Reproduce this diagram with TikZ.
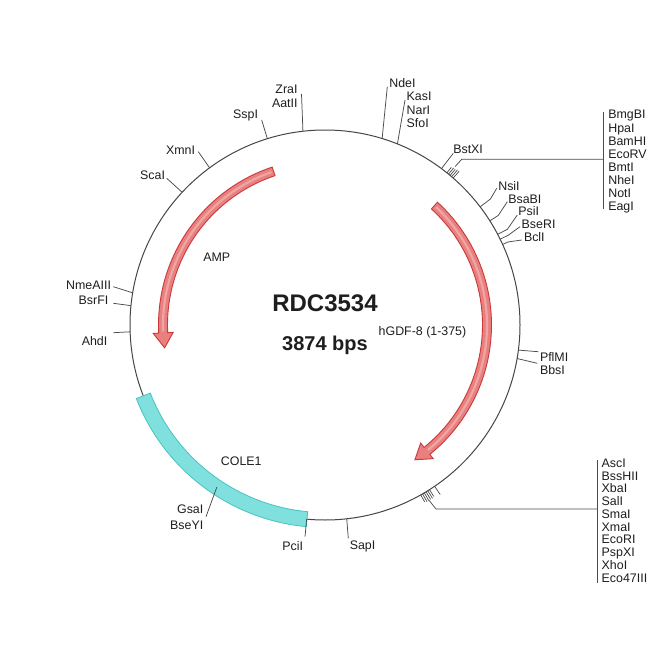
\documentclass[tikz,border=0pt]{standalone}
\usepackage{fontspec}
\setmainfont{Liberation Sans}
\definecolor{txtc}{RGB}{30,30,30}
\definecolor{leadc}{RGB}{75,75,75}
\definecolor{ringc}{RGB}{70,70,70}
\definecolor{redf}{RGB}{232,128,128}
\definecolor{redd}{RGB}{205,55,55}
\definecolor{redl}{RGB}{240,165,165}
\definecolor{cyanf}{RGB}{128,224,222}
\definecolor{cyand}{RGB}{70,195,195}
\begin{document}
\begin{tikzpicture}[x=1pt,y=-1pt,
  lab/.style={font=\fontsize{12.4}{13}\selectfont, text=txtc, inner sep=0pt, outer sep=0pt},
  bigtitle/.style={font=\bfseries\fontsize{24}{28}\selectfont, text=txtc, inner sep=0pt},
  subtitle/.style={font=\bfseries\fontsize{20}{24}\selectfont, text=txtc, inner sep=0pt},
  lead/.style={draw=leadc, line width=0.75pt},
  ring/.style={draw=ringc, line width=1pt},
  redarrow/.style={fill=redf, draw=redd, line width=0.9pt, line join=miter},
  redstripe/.style={draw=redl, line width=2.2pt},
  cyanband/.style={fill=cyanf, draw=cyand, line width=0.8pt},
  tickmark/.style={draw=leadc, line width=0.7pt}]
\fill[white] (0,0) rectangle (650,650);
\useasboundingbox (0,0) rectangle (650,650);

\begin{scope}[shift={(325,325)}]
  % backbone
  \draw[ring] (0,0) circle[radius=195];
  % AMP arrow (counter-clockwise on screen)
  \path[redarrow] (-108.5:166.5) arc[start angle=-108.5, end angle=-182.8, radius=166.5]
     -- (-182.8:172) -- (-188.1:162) -- (-182.8:152) -- (-182.8:157.5)
     arc[start angle=-182.8, end angle=-108.5, radius=157.5] -- cycle;
  \draw[redstripe] (-109.3:162) arc[start angle=-109.3, end angle=-182.3, radius=162];
  % hGDF-8 arrow (clockwise on screen)
  \path[redarrow] (-47.5:166.5) arc[start angle=-47.5, end angle=51, radius=166.5]
     -- (51:172) -- (56.3:162) -- (51:152) -- (51:157.5)
     arc[start angle=51, end angle=-47.5, radius=157.5] -- cycle;
  \draw[redstripe] (-46.7:162) arc[start angle=-46.7, end angle=50.5, radius=162];
  % COLE1 band
  \path[cyanband] (-201.3:202.5) arc[start angle=-201.3, end angle=-264.7, radius=202.5]
     -- (-264.7:187.5) arc[start angle=-264.7, end angle=-201.3, radius=187.5] -- cycle;

  % site points on the backbone
  \coordinate (cZra) at (-96.5:195);
  \coordinate (cSsp) at (-107.2:195);
  \coordinate (cXmn) at (-126.3:195);
  \coordinate (cSca) at (-137.1:195);
  \coordinate (cNme) at (-170.5:195);
  \coordinate (cBsr) at (-174.3:195);
  \coordinate (cAhd) at (-182:195);
  \coordinate (cGsa) at (-236.3:195);
  \coordinate (cPci) at (-264.6:195);
  \coordinate (cSap) at (-276.4:195);
  \coordinate (cPfl) at (7.4:195);
  \coordinate (cBbs) at (9.9:195);
  \coordinate (cBcl) at (-24.4:195);   \coordinate (kBcl) at (-24.4:201);
  \coordinate (cBseR) at (-26.1:195);  \coordinate (kBseR) at (-26.1:204);
  \coordinate (cPsi) at (-27.7:195);   \coordinate (kPsi) at (-27.7:206);
  \coordinate (cBsaB) at (-32.3:195);  \coordinate (kBsaB) at (-32.3:205);
  \coordinate (cNsi) at (-37.3:195);   \coordinate (kNsi) at (-37.3:208);
  \coordinate (cBstX) at (-53.3:195);  \coordinate (kBstX) at (-53.3:201);
  \coordinate (cNde) at (-72.96:195);
  \coordinate (cKas) at (-68.2:195);
  \coordinate (jTop) at (-50.6:205);
  \coordinate (jBot) at (59.3:204);
  % clustered ticks
  \foreach \a/\l in {48.9/9,49.5/9,50.1/8,50.7/8,51.3/7}
    \draw[tickmark] (-\a:195) -- (-\a:195+\l);
  \foreach \a/\l in {57.6/8,58.2/9,58.8/9,59.4/9,60.0/9,60.6/8}
    \draw[tickmark] (\a:195) -- (\a:195+\l);
  \draw[tickmark] (55.8:195) -- (55.8:205);
\end{scope}

% leader end points
\coordinate (eZra) at (301.5,94);
\coordinate (eSsp) at (261.7,120);
\coordinate (eXmn) at (198.3,151.7);
\coordinate (eSca) at (166.7,178.3);
\coordinate (eNme) at (113.3,286.7);
\coordinate (eBsr) at (113.3,303.3);
\coordinate (eAhd) at (113.3,332.7);
\coordinate (eGsa) at (206,516.7);
\coordinate (ePci) at (305,536.7);
\coordinate (eSap) at (348.3,538.3);
\coordinate (ePfl) at (538.3,351.7);
\coordinate (eBbs) at (537.3,363.3);
\coordinate (eBcl) at (521.7,240);
\coordinate (eBseR) at (520,226.7);
\coordinate (ePsi) at (517.3,215);
\coordinate (eBsaB) at (507.3,201.7);
\coordinate (eNsi) at (496.7,188.3);
\coordinate (eBstX) at (453.3,153.3);
\coordinate (eNde) at (387.3,86.7);
\coordinate (eKas) at (405,100);
\coordinate (kTop) at (461.7,159.3);
\coordinate (mTop) at (603.3,159.3);
\coordinate (bTop1) at (603.3,112.5);
\coordinate (bTop2) at (603.3,208.5);
\coordinate (kBot) at (436,509);
\coordinate (mBot) at (597.3,509);
\coordinate (bBot1) at (597.3,460);
\coordinate (bBot2) at (597.3,583);

% leaders
\draw[lead] (cZra) -- (eZra);
\draw[lead] (cSsp) -- (eSsp);
\draw[lead] (cXmn) -- (eXmn);
\draw[lead] (cSca) -- (eSca);
\draw[lead] (cNme) -- (eNme);
\draw[lead] (cBsr) -- (eBsr);
\draw[lead] (cAhd) -- (eAhd);
\draw[lead] (cGsa) -- (eGsa);
\draw[lead] (cPci) -- (ePci);
\draw[lead] (cSap) -- (eSap);
\draw[lead] (cPfl) -- (ePfl);
\draw[lead] (cBbs) -- (eBbs);
\draw[lead] (cBcl) -- (kBcl) -- (eBcl);
\draw[lead] (cBseR) -- (kBseR) -- (eBseR);
\draw[lead] (cPsi) -- (kPsi) -- (ePsi);
\draw[lead] (cBsaB) -- (kBsaB) -- (eBsaB);
\draw[lead] (cNsi) -- (kNsi) -- (eNsi);
\draw[lead] (cBstX) -- (kBstX) -- (eBstX);
\draw[lead] (cNde) -- (eNde);
\draw[lead] (cKas) -- (eKas);
\draw[lead] (jTop) -- (kTop) -- (mTop);
\draw[lead] (bTop1) -- (bTop2);
\draw[lead] (jBot) -- (kBot) -- (mBot);
\draw[lead] (bBot1) -- (bBot2);

% labels
\node[lab, anchor=base east] (lZra) at (297.5,94) {ZraI};
\node[lab, anchor=base east] (lAat) at (297.5,107) {AatII};
\node[lab, anchor=base east] (lSsp) at (258,118) {SspI};
\node[lab, anchor=base east] (lXmn) at (195,154) {XmnI};
\node[lab, anchor=base east] (lSca) at (165,179) {ScaI};
\node[lab, anchor=base east] (lNme) at (111,289) {NmeAIII};
\node[lab, anchor=base east] (lBsr) at (108.3,304) {BsrFI};
\node[lab, anchor=base east] (lAhd) at (107.3,345) {AhdI};
\node[lab, anchor=base east] (lGsa) at (203.3,513.3) {GsaI};
\node[lab, anchor=base east] (lBseY) at (203.3,529.3) {BseYI};
\node[lab, anchor=base] (lPci) at (292.8,550) {PciI};
\node[lab, anchor=base] (lSap) at (362.5,549) {SapI};
\node[lab, anchor=base west] (lPfl) at (540,361.7) {PflMI};
\node[lab, anchor=base west] (lBbs) at (540,374.3) {BbsI};
\node[lab, anchor=base west] (lNsi) at (498.3,190) {NsiI};
\node[lab, anchor=base west] (lBsaB) at (508.3,203.3) {BsaBI};
\node[lab, anchor=base west] (lPsi) at (518.3,215.7) {PsiI};
\node[lab, anchor=base west] (lBseR) at (521.7,228.3) {BseRI};
\node[lab, anchor=base west] (lBcl) at (524,241.7) {BclI};
\node[lab, anchor=base west] (lBstX) at (453.3,153.3) {BstXI};
\node[lab, anchor=base west] (lNde) at (389.3,87.7) {NdeI};
\node[lab, anchor=base west] (lKas) at (406.7,100.7) {KasI};
\node[lab, anchor=base west] (lNar) at (406.7,114) {NarI};
\node[lab, anchor=base west] (lSfo) at (406.7,127.3) {SfoI};
\foreach \t [count=\i from 0] in {BmgBI,HpaI,BamHI,EcoRV,BmtI,NheI,NotI,EagI}
  \node[lab, anchor=base west] (top\i) at (608.3,119+13.14*\i) {\t};
\foreach \t [count=\i from 0] in {AscI,BssHII,XbaI,SalI,SmaI,XmaI,EcoRI,PspXI,XhoI,Eco47III}
  \node[lab, anchor=base west] (bot\i) at (601.7,467.3+12.78*\i) {\t};

% feature and title texts
\node[bigtitle, anchor=base] (title) at (325,311.7) {RDC3534};
\node[subtitle, anchor=base] (size) at (325,350) {3874 bps};
\node[lab, anchor=base] (gdf) at (422.5,335) {hGDF-8 (1-375)};
\node[lab, anchor=base] (amp) at (216.7,261.7) {AMP};
\node[lab, anchor=base] (cole) at (241.3,465) {COLE1};
\end{tikzpicture}
\end{document}
